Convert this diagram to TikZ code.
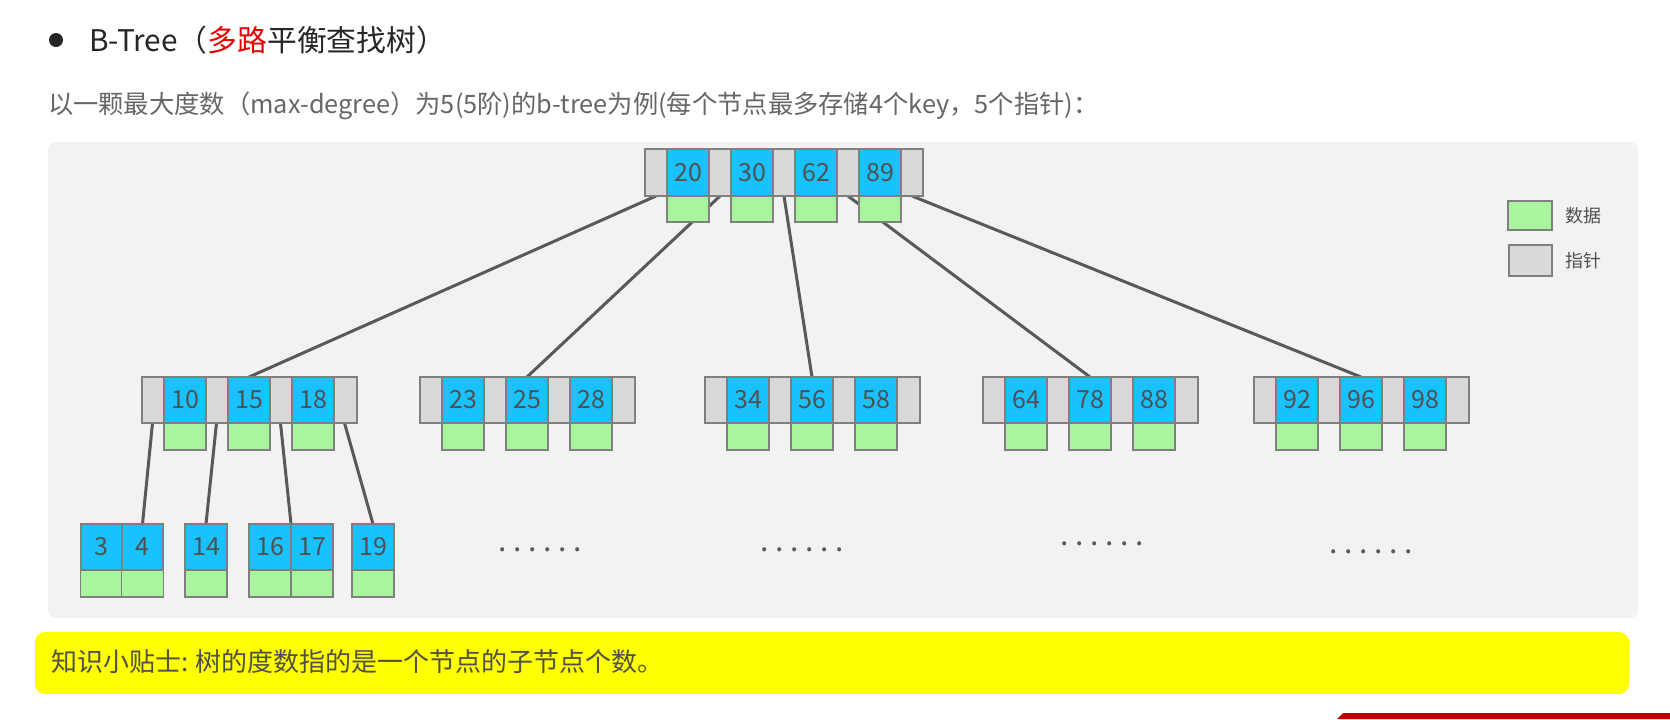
\documentclass[tikz,border=0pt]{standalone}
\usepackage{fontspec}
\newfontfamily\cjk{Noto Sans CJK SC}
\usepackage{tikz}
\usetikzlibrary{positioning, calc}
\definecolor{keyblue}{RGB}{25,194,255}
\definecolor{datagreen}{RGB}{168,245,158}
\definecolor{ptrgray}{RGB}{217,217,217}
\definecolor{boxline}{RGB}{127,127,127}
\definecolor{linkgray}{RGB}{89,89,89}
\definecolor{keytext}{RGB}{80,80,80}
\definecolor{panelgray}{RGB}{242,242,242}
\definecolor{tipyellow}{RGB}{255,255,0}
\definecolor{titlered}{RGB}{230,0,0}
\definecolor{titletext}{RGB}{38,38,38}
\definecolor{subtext}{RGB}{102,102,102}
\definecolor{tiptext}{RGB}{80,80,70}
\definecolor{barred}{RGB}{192,0,0}
\pgfdeclarelayer{back}
\pgfdeclarelayer{wires}
\pgfsetlayers{back,wires,main}
\newcommand{\sixdots}{.\kern3.3pt.\kern3.3pt.\kern3.3pt.\kern3.3pt.\kern3.3pt.}

\begin{document}
\begin{tikzpicture}[
    x=0.5pt, y=-0.5pt,
    every node/.style={font=\cjk, inner sep=0pt, outer sep=0pt},
    ptrbox/.style={draw=boxline, line width=0.7pt, fill=ptrgray, minimum width=107.5pt, minimum height=23pt},
    keybox/.style={draw=boxline, line width=0.7pt, fill=keyblue, minimum width=21pt, minimum height=23pt, text=keytext, font=\cjk\fontsize{12.5pt}{14pt}\selectfont},
    databox/.style={draw=boxline, line width=0.7pt, fill=datagreen, minimum width=21pt, minimum height=13.5pt},
    link/.style={draw=linkgray, line width=1.5pt},
    dotrow/.style={anchor=base, text=linkgray, font=\cjk\fontsize{15pt}{17pt}\selectfont},
    legtext/.style={text=keytext, font=\cjk\fontsize{9pt}{11pt}\selectfont}
]
    \useasboundingbox (0,0) rectangle (1670,719);

    % Page and panels
    \begin{pgfonlayer}{back}
        \fill[white] (0,0) rectangle (1670,719);
        \fill[panelgray, rounded corners=4pt] (48,142) rectangle (1638,618);
        \fill[tipyellow, rounded corners=5pt] (35,632) rectangle (1629,694);
        \fill[barred] (1343,713) -- (1670,713) -- (1670,719) -- (1337,719) -- cycle;
    \end{pgfonlayer}

    % Heading
    \node[circle, fill=titletext, minimum size=7pt] (bullet) at (56,40) {};
    \node[anchor=west, text=titletext, font=\cjk\fontsize{14.9pt}{17pt}\selectfont] (title) at (89,40)
        {B-Tree（\textcolor{titlered}{多路}平衡查找树）};
    \node[anchor=west, text=subtext, font=\cjk\fontsize{12.65pt}{15pt}\selectfont] (subtitle) at (48,106)
        {以一颗最大度数（max-degree）为5(5阶)的b-tree为例(每个节点最多存储4个key，5个指针)：};

    % Root
    \node[ptrbox, minimum width=139pt, minimum height=23.5pt] (root) at (784,172.5) {};
    \foreach \k [count=\i] in {20,30,62,89} {
        \node[keybox, minimum height=23.5pt] (root-k\i) at ($(root.west)+(43+64*\i-64,0)$) {\k};
        \node[databox, minimum height=13pt, below=0pt of root-k\i] (root-d\i) {};
    }
    \foreach \i in {1,...,5}
        \coordinate (root-p\i) at ($(root.south west)+(11+64*\i-64,0)$);

    % Second level
    \foreach \n/\x/\a/\b/\c in {m1/142/10/15/18, m2/420/23/25/28, m3/705/34/56/58, m4/983/64/78/88, m5/1254/92/96/98} {
        \node[ptrbox, anchor=west] (\n) at (\x,400) {};
        \foreach \k [count=\i] in {\a,\b,\c} {
            \node[keybox] (\n-k\i) at ($(\n.west)+(43+64*\i-64,0)$) {\k};
            \node[databox, below=0pt of \n-k\i] (\n-d\i) {};
        }
        \foreach \i in {1,...,4}
            \coordinate (\n-p\i) at ($(\n.south west)+(10.5+64*\i-64,0)$);
    }

    % Leaves
    \node[keybox, minimum width=20.5pt] (lf3) at (101.5,547) {3};
    \node[keybox, minimum width=20.5pt, right=0pt of lf3] (lf4) {4};
    \node[keybox] (lf14) at (206,547) {14};
    \node[keybox] (lf16) at (270,547) {16};
    \node[keybox, right=0pt of lf16] (lf17) {17};
    \node[keybox] (lf19) at (373,547) {19};
    \foreach \k in {3,4,14,16,17,19}
        \node[databox, below=0pt of lf\k] (lf\k-d) {};

    % Remaining leaves
    \foreach \x/\y [count=\i] in {540/551, 802/551, 1102/545, 1371/553}
        \node[dotrow] (dots\i) at (\x,\y) {\sixdots};

    % Connections
    \begin{pgfonlayer}{wires}
        \foreach \i/\n in {1/m1, 2/m2, 3/m3, 4/m4, 5/m5}
            \draw[link] (root-p\i) -- (\n-k2.north);
        \foreach \i/\j in {1/lf4.north, 2/lf14.north, 3/lf16.north east, 4/lf19.north}
            \draw[link] (m1-p\i) -- (\j);
    \end{pgfonlayer}

    % Legend
    \node[databox, minimum width=22pt, minimum height=14.5pt] (leg-data) at (1530,215.5) {};
    \node[ptrbox, minimum width=21.5pt, minimum height=15.5pt] (leg-ptr) at (1530.5,260.5) {};
    \node[legtext, right=6.5pt of leg-data] (leg-data-txt) {数据};
    \node[legtext, right=6.5pt of leg-ptr] (leg-ptr-txt) {指针};

    % Tip
    \node[anchor=west, text=tiptext, font=\cjk\fontsize{13pt}{15pt}\selectfont] (tip) at (51,662)
        {知识小贴士: 树的度数指的是一个节点的子节点个数。};
\end{tikzpicture}
\end{document}
